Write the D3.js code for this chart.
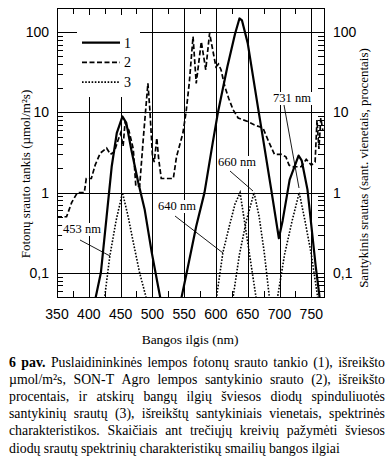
<!DOCTYPE html>
<html>
<head>
<meta charset="utf-8">
<script src="https://cdn.jsdelivr.net/npm/d3@7"></script>
<style>
  body { margin: 0; background: #fff; }
  svg { display: block; }
</style>
</head>
<body>
<div id="chart"></div>
<script>
// data: [wavelength nm, value]
const ledFlux = [[405,0.02],[410,0.046],[419,0.1],[428,0.5],[436,2.1],[444,5.5],[453,8.9],[459,7.4],[467,3.4],[478,1.32],[488,0.61],[499,0.18],[509,0.068],[516,0.035],
  [530,0.012],[540,0.025],[546,0.05],[554,0.1],[569,0.38],[582,1],[595,4.2],[603,9.8],[618,37],[630,95],[637,148],[641,140],[650,73],[666,11.7],[676,3.8],[687,1.09],[699,0.27],
  [705,0.45],[716,1.45],[730,2.9],[735,2.5],[744,1.09],[757,0.12],[763,0.05],[767,0.02]]

const sonT = [[350,0.5],[365,0.5],[373,0.75],[382,1],[393,1],[396,1.5],[404,1.5],[410,2.2],[418,3.1],[428,3.6],[434,3],[440,3.2],[446,4.5],[450,5.5],[454,3.8],[457,7.4],[463,6],
  [470,3.5],[474,1.2],[480,1.2],[486,5],[490,12],[493,23],[496,11],[500,3],[503,2.4],[507,4.8],[510,2.6],[514,1.5],[533,1.5],[538,2.8],[548,5.5],[553,10],[558,23],[564,88],
  [569,23],[577,76],[584,34],[590,97],[600,37],[604,40],[608,34],[614,21],[620,15],[627,10.8],[635,8.5],[650,7.7],[660,7],[674,6.4],[682,4.5],[692,3],[703,3],[710,2.8],
  [715,2.2],[721,2.1],[734,2.1],[742,2.6],[750,2.2],[756,2.4],[759,8],[762,3.5],[765,8.5],[768,6]]

const led453 = [[420,0.03],[425,0.05],[433,0.16],[443,0.45],[453,1],[462,0.5],[470,0.24],[480,0.1],[490,0.05],[495,0.03]]
const led640 = [[597,0.03],[601,0.05],[611,0.18],[621,0.38],[630,0.72],[638,1],[650,0.24],[663,0.05],[667,0.03]]
const led660 = [[623,0.03],[627,0.05],[637,0.17],[648,0.45],[660,1],[668,0.5],[676,0.18],[684,0.05],[688,0.03]]
const led731 = [[693,0.03],[697,0.05],[708,0.17],[720,0.45],[731,1],[740,0.45],[750,0.17],[760,0.05],[764,0.03]]

const xTicks = [350,400,450,500,550,600,650,700,750]
const yTicks = [100,10,1,0.1]
const yTickLabels = ["100","10","1","0,1"]

const peakLabels = ["453 nm","640 nm","660 nm","731 nm"]

const captionLines = [
  "6 pav. Puslaidininkinės lempos fotonų srauto tankio (1), išreikšto",
  "µmol/m²s, SON-T Agro lempos santykinio srauto (2), išreikšto",
  "procentais, ir atskirų bangų ilgių šviesos diodų spinduliuotės",
  "santykinių srautų (3), išreikštų santykiniais vienetais, spektrinės",
  "charakteristikos. Skaičiais ant trečiųjų kreivių pažymėti šviesos",
  "diodų srautų spektrinių charakteristikų smailių bangos ilgiai"
]

// ----------------------------------------------------------

const width = 392
const height = 460
const margin = { top: 8, left: 57, right: 68, bottom: 163 }
const w = width - margin.left - margin.right
const h = height - margin.top - margin.bottom

const serif = "'Liberation Serif', 'Times New Roman', serif"
const sans = "'Liberation Sans', Arial, sans-serif"

const svg = d3.select("#chart").append("svg").attr("width", width).attr("height", height)
svg.append("rect").attr("width", width).attr("height", height).attr("fill", "#fff")

const g = svg.append("g").attr("transform", `translate(${margin.left}, ${margin.top})`)

// escalas
const x = d3.scaleLinear().domain([350, 770]).range([0, w])
const y = d3.scaleLog().domain([0.05, 200]).range([h, 0])

svg.append("defs").append("clipPath").attr("id", "clip")
  .append("rect").attr("width", w).attr("height", h)

// rejilla
const grid = g.append("g").attr("stroke", "#000").attr("stroke-width", 1)
grid.selectAll(".vg").data(xTicks.slice(1)).enter().append("line")
  .attr("x1", d => Math.round(x(d)) + 0.5).attr("x2", d => Math.round(x(d)) + 0.5)
  .attr("y1", 0).attr("y2", h)
grid.selectAll(".hg").data(yTicks).enter().append("line")
  .attr("y1", d => Math.round(y(d)) + 0.5).attr("y2", d => Math.round(y(d)) + 0.5)
  .attr("x1", 0).attr("x2", w)

// ticks menores hacia dentro
const minorX = d3.range(375, 770, 50)
const ticks = g.append("g").attr("stroke", "#000").attr("stroke-width", 1)
minorX.forEach(v => {
  const px = Math.round(x(v)) + 0.5
  ticks.append("line").attr("x1", px).attr("x2", px).attr("y1", 0).attr("y2", 6)
  ticks.append("line").attr("x1", px).attr("x2", px).attr("y1", h).attr("y2", h - 6)
})
const minorY = []
;[0.01, 0.1, 1, 10, 100].forEach(dec => {
  for (let k = 2; k <= 9; k++) {
    const v = dec * k
    if (v >= 0.05 && v <= 200) minorY.push(v)
  }
})
minorY.forEach(v => {
  const py = Math.round(y(v)) + 0.5
  ticks.append("line").attr("x1", 0).attr("x2", 6).attr("y1", py).attr("y2", py)
  ticks.append("line").attr("x1", w).attr("x2", w - 6).attr("y1", py).attr("y2", py)
})

// leyenda (caja blanca)
const legend = g.append("g").attr("transform", `translate(${77 - margin.left}, ${15 - margin.top})`)
legend.append("rect").attr("width", 63).attr("height", 82).attr("fill", "#fff")

// etiquetas de picos con fondo blanco
const peakPos = [
  { tx: 82, ty: 233, x1: 80, y1: 240, x2: 110, y2: 256 },
  { tx: 177, ty: 210, x1: 175, y1: 216, x2: 223, y2: 253 },
  { tx: 237, ty: 166, x1: 230, y1: 171, x2: 253, y2: 191 },
  { tx: 292, ty: 102, x1: 284, y1: 105, x2: 299, y2: 188 }
]
const ann = svg.append("g")
peakLabels.forEach((lab, i) => {
  const p = peakPos[i]
  const t = ann.append("text").attr("x", p.tx).attr("y", p.ty).attr("text-anchor", "middle")
    .attr("font-family", serif).attr("font-size", 12.5).text(lab)
  const bb = t.node().getBBox()
  ann.insert("rect", "text").attr("x", bb.x - 1).attr("y", bb.y + 1).attr("width", bb.width + 2).attr("height", bb.height - 1).attr("fill", "#fff")
  ann.append("line").attr("x1", p.x1).attr("y1", p.y1).attr("x2", p.x2).attr("y2", p.y2)
    .attr("stroke", "#000").attr("stroke-width", 0.9)
})

// curvas
const line = d3.line().x(d => x(d[0])).y(d => y(d[1]))
const curves = g.append("g").attr("clip-path", "url(#clip)").attr("fill", "none").attr("stroke", "#000")
curves.append("path").datum(sonT).attr("d", line).attr("stroke-width", 1.7).attr("stroke-dasharray", "5,2.5")
;[led453, led640, led660, led731].forEach(s => {
  curves.append("path").datum(s).attr("d", line).attr("stroke-width", 1.6).attr("stroke-dasharray", "1.6,1.6")
})
curves.append("path").datum(ledFlux).attr("d", line).attr("stroke-width", 2.2).attr("stroke-linejoin", "round")

// marco
g.append("rect").attr("x", 0.5).attr("y", 0.5).attr("width", w).attr("height", h)
  .attr("fill", "none").attr("stroke", "#000").attr("stroke-width", 1)

// leyenda contenido
const legItems = [
  { dash: null, sw: 2.2, lab: "1" },
  { dash: "5,2.5", sw: 1.7, lab: "2" },
  { dash: "1.6,1.6", sw: 1.6, lab: "3" }
]
legItems.forEach((it, i) => {
  const ly = 42.7 + i * 19.7
  const l = svg.append("line").attr("x1", 82).attr("x2", 120).attr("y1", ly).attr("y2", ly)
    .attr("stroke", "#000").attr("stroke-width", it.sw)
  if (it.dash) l.attr("stroke-dasharray", it.dash)
  svg.append("text").attr("x", 124).attr("y", ly + 5).attr("font-family", serif).attr("font-size", 14).text(it.lab)
})

// etiquetas de ejes
const lab = svg.append("g").attr("fill", "#000")
xTicks.forEach(v => {
  lab.append("text").attr("x", margin.left + x(v)).attr("y", 319).attr("text-anchor", "middle")
    .attr("font-family", sans).attr("font-size", 14).text(v)
})
yTicks.forEach((v, i) => {
  const py = margin.top + y(v) + 5
  lab.append("text").attr("x", 49).attr("y", py).attr("text-anchor", "end")
    .attr("font-family", sans).attr("font-size", 14).text(yTickLabels[i])
  lab.append("text").attr("x", 333).attr("y", py).attr("text-anchor", "start")
    .attr("font-family", sans).attr("font-size", 14).text(yTickLabels[i])
})

// titulos
lab.append("text").attr("x", 190).attr("y", 344).attr("text-anchor", "middle")
  .attr("font-family", serif).attr("font-size", 13.5).text("Bangos ilgis (nm)")
lab.append("text").attr("transform", "translate(30, 174) rotate(-90)").attr("text-anchor", "middle")
  .attr("font-family", serif).attr("font-size", 13).text("Fotonų srauto tankis (µmol/m²s)")
lab.append("text").attr("transform", "translate(368, 168) rotate(-90)").attr("text-anchor", "middle")
  .attr("font-family", serif).attr("font-size", 13).text("Santykinis srautas (sant. vienetais, procentais)")

// pie de figura justificado
const cap = svg.append("g").attr("font-family", serif).attr("font-size", 13.8)
const capX0 = 9, capX1 = 385, capY0 = 367, capDy = 17.1
captionLines.forEach((ln, i) => {
  const words = ln.split(" ")
  const yy = capY0 + i * capDy
  const nodes = words.map((wd, j) => {
    const t = cap.append("text").attr("y", yy).text(wd)
    if (i === 0 && j < 2) t.attr("font-weight", "bold")
    return t
  })
  const widths = nodes.map(n => n.node().getComputedTextLength())
  const total = d3.sum(widths)
  const last = i === captionLines.length - 1
  const gap = last ? 3.4 : (capX1 - capX0 - total) / (words.length - 1)
  let xx = capX0
  nodes.forEach((n, j) => { n.attr("x", xx); xx += widths[j] + gap })
})
</script>
</body>
</html>
